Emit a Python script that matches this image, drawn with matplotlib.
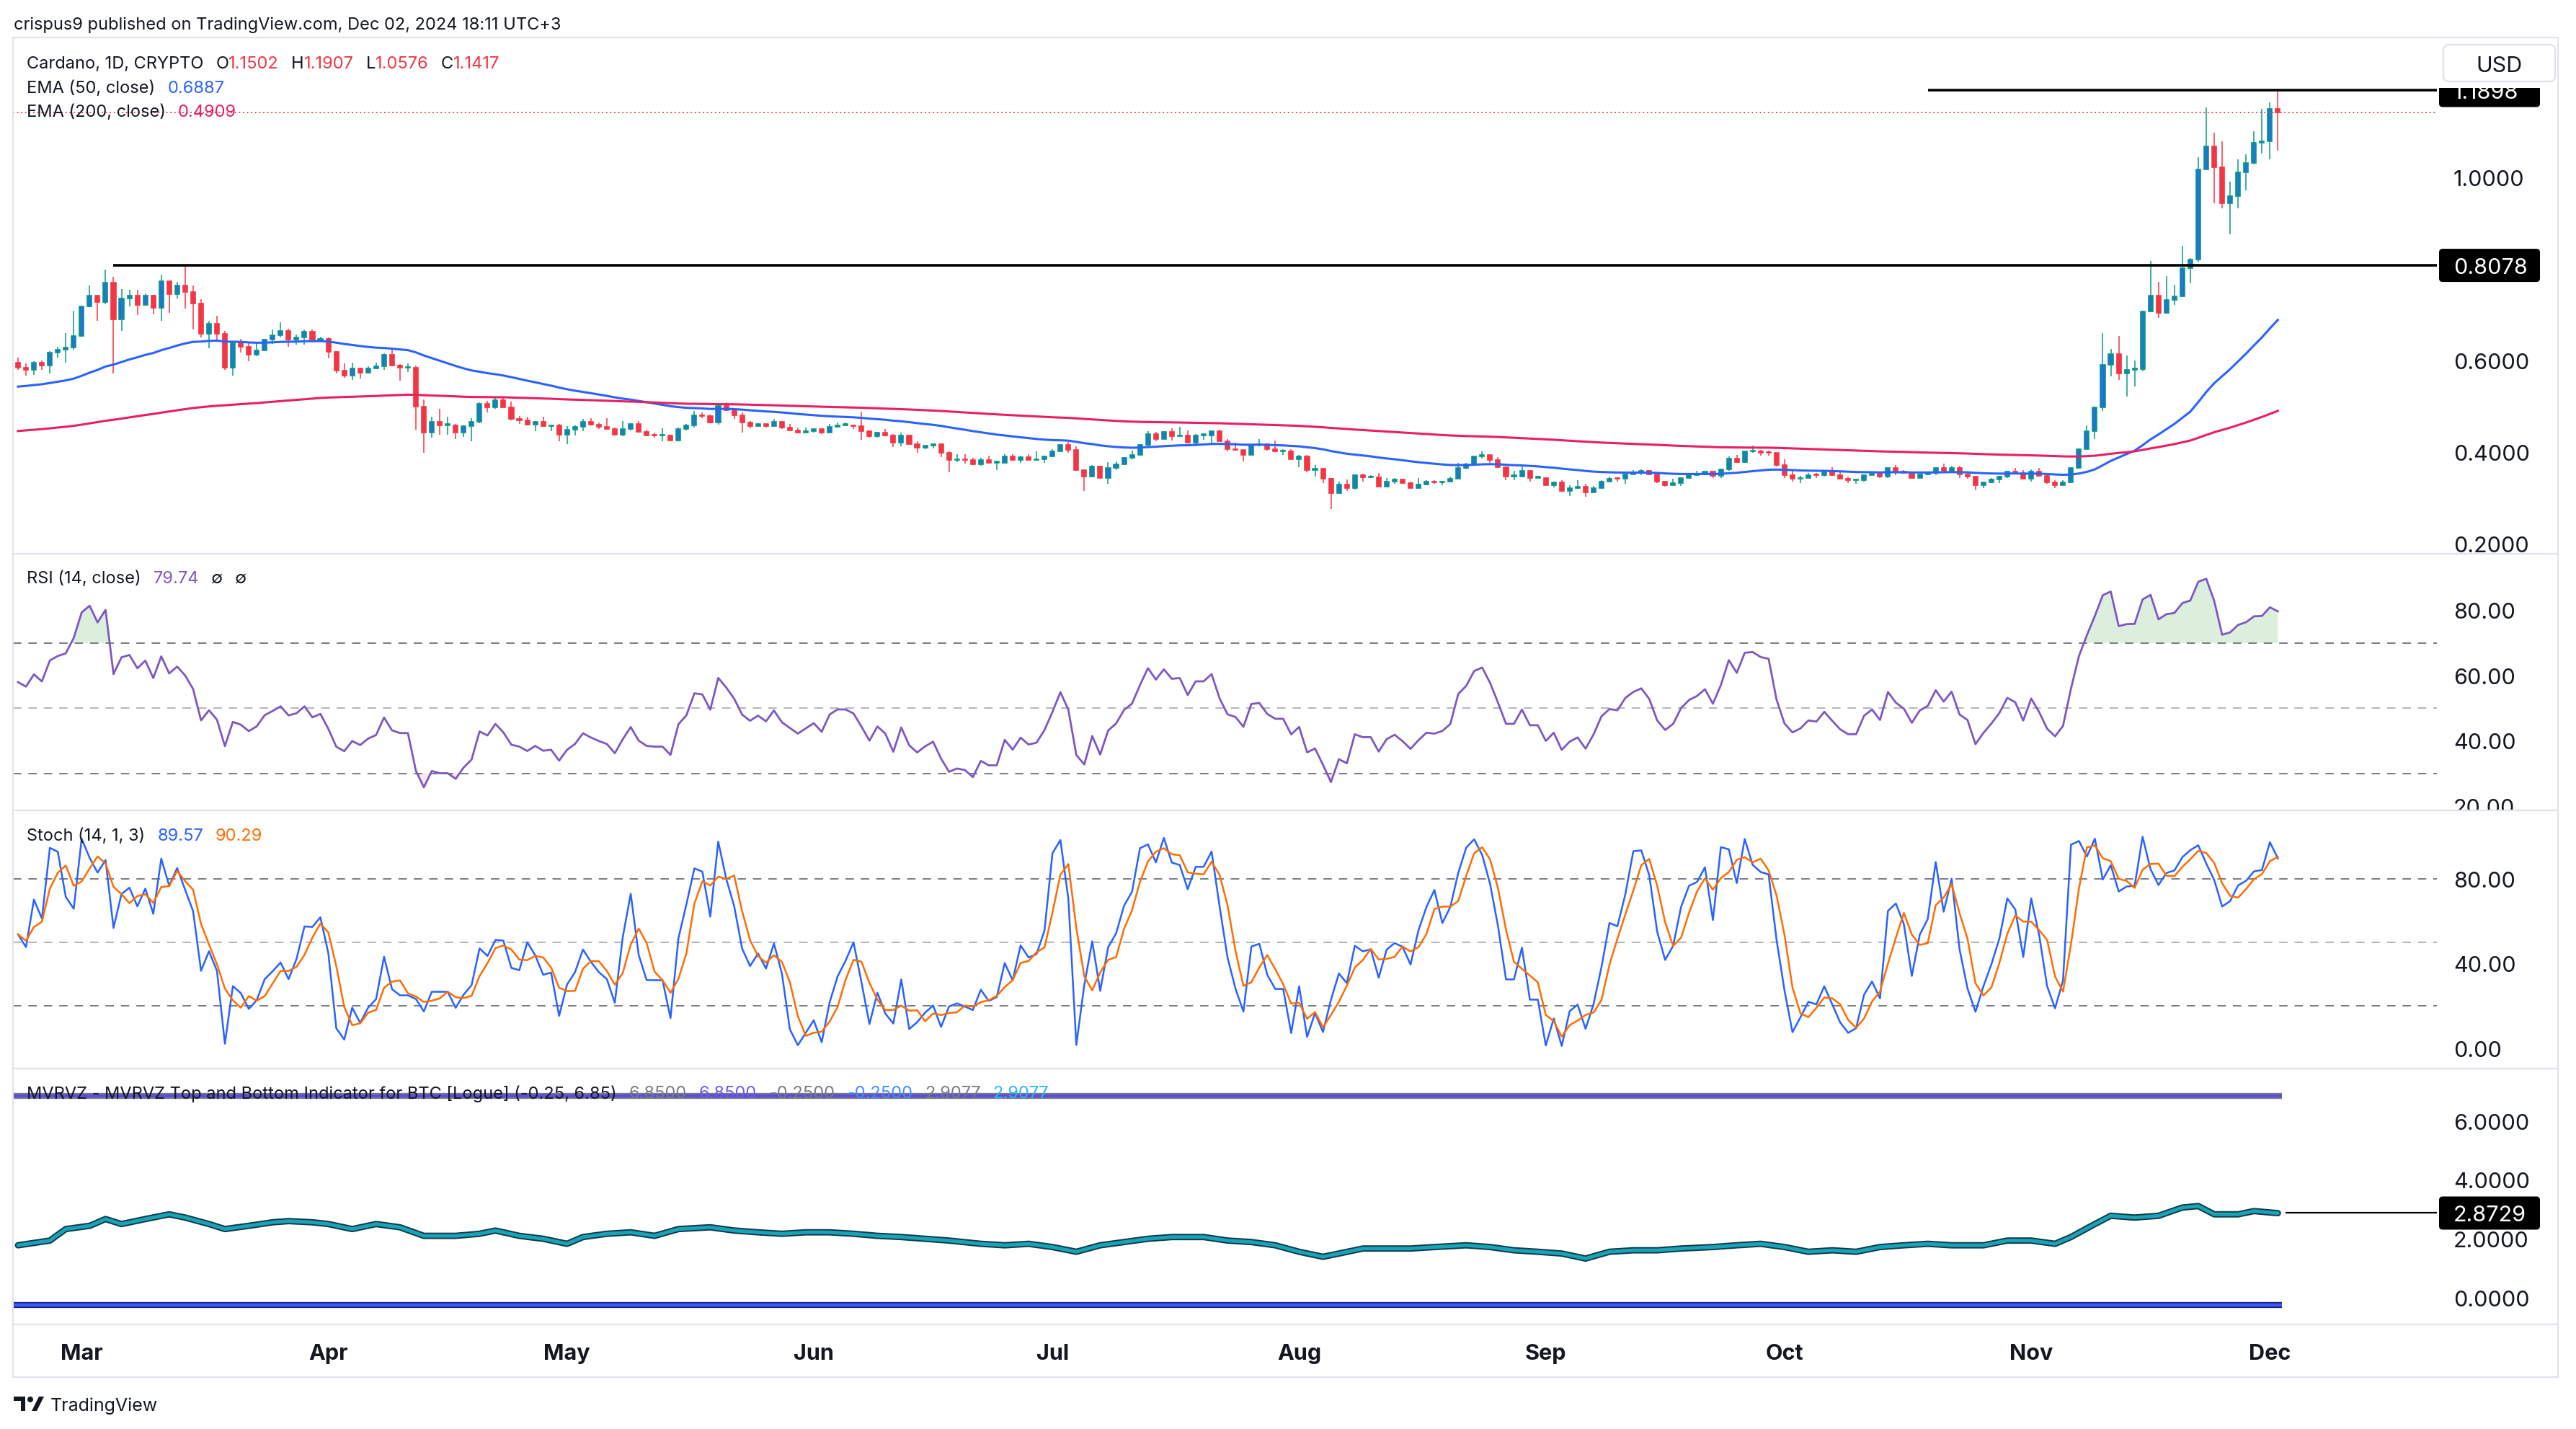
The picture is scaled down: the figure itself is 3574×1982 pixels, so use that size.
import numpy as np
import pandas as pd
import matplotlib
matplotlib.use("Agg")
import matplotlib.pyplot as plt
import matplotlib.transforms as mtransforms
from matplotlib.patches import FancyBboxPatch, Rectangle, Circle, Polygon

plt.rcParams['font.family'] = ['Inter', 'DejaVu Sans']

# ---- data: ADA/USD daily, 2024-02-22 .. 2024-12-02 ----
dates = pd.date_range("2024-02-22", "2024-12-02", freq="D")
first_open = 0.596
closes = [
    0.584, 0.580, 0.595, 0.589, 0.617, 0.624, 0.628, 0.654, 0.718, 0.742,
    0.727, 0.770, 0.690, 0.735, 0.742, 0.722, 0.742, 0.715, 0.774, 0.745,
    0.764, 0.749, 0.725, 0.658, 0.680, 0.658, 0.584, 0.638, 0.630, 0.612,
    0.622, 0.646, 0.655, 0.665, 0.646, 0.650, 0.663, 0.642, 0.648, 0.619,
    0.578, 0.567, 0.582, 0.573, 0.582, 0.587, 0.612, 0.589, 0.584, 0.584,
    0.500, 0.443, 0.466, 0.459, 0.459, 0.442, 0.456, 0.466, 0.505, 0.497,
    0.514, 0.498, 0.473, 0.469, 0.460, 0.466, 0.457, 0.458, 0.438, 0.449,
    0.455, 0.466, 0.460, 0.455, 0.451, 0.438, 0.450, 0.461, 0.444, 0.437,
    0.436, 0.436, 0.426, 0.450, 0.458, 0.480, 0.479, 0.465, 0.501, 0.492,
    0.481, 0.464, 0.457, 0.462, 0.456, 0.466, 0.454, 0.448, 0.442, 0.446,
    0.450, 0.442, 0.455, 0.459, 0.459, 0.456, 0.446, 0.434, 0.443, 0.437,
    0.420, 0.436, 0.418, 0.410, 0.414, 0.417, 0.399, 0.382, 0.384, 0.382,
    0.373, 0.382, 0.377, 0.377, 0.391, 0.382, 0.389, 0.383, 0.384, 0.391,
    0.402, 0.416, 0.404, 0.360, 0.347, 0.369, 0.344, 0.366, 0.373, 0.387,
    0.394, 0.416, 0.440, 0.429, 0.444, 0.435, 0.436, 0.420, 0.437, 0.437,
    0.446, 0.424, 0.407, 0.404, 0.393, 0.416, 0.417, 0.406, 0.401, 0.401,
    0.385, 0.391, 0.361, 0.364, 0.341, 0.310, 0.329, 0.322, 0.349, 0.345,
    0.345, 0.325, 0.336, 0.340, 0.332, 0.322, 0.329, 0.335, 0.334, 0.336,
    0.341, 0.366, 0.374, 0.390, 0.394, 0.383, 0.367, 0.347, 0.347, 0.359,
    0.344, 0.344, 0.328, 0.334, 0.315, 0.321, 0.324, 0.312, 0.322, 0.336,
    0.342, 0.341, 0.351, 0.356, 0.359, 0.352, 0.336, 0.328, 0.332, 0.343,
    0.349, 0.352, 0.357, 0.348, 0.362, 0.386, 0.378, 0.401, 0.402, 0.399,
    0.398, 0.371, 0.350, 0.341, 0.344, 0.350, 0.349, 0.356, 0.349, 0.342,
    0.338, 0.338, 0.349, 0.353, 0.346, 0.365, 0.358, 0.354, 0.344, 0.352,
    0.355, 0.366, 0.359, 0.366, 0.351, 0.347, 0.327, 0.334, 0.340, 0.347,
    0.358, 0.355, 0.342, 0.358, 0.348, 0.334, 0.327, 0.334, 0.365, 0.406,
    0.445, 0.497, 0.591, 0.614, 0.572, 0.580, 0.581, 0.707, 0.741, 0.704,
    0.733, 0.740, 0.802, 0.821, 1.018, 1.067, 1.022, 0.943, 0.959, 1.011,
    1.031, 1.076, 1.079, 1.1502, 1.1417,
]
highs = [
    0.606, 0.594, 0.598, 0.600, 0.621, 0.630, 0.660, 0.709, 0.720, 0.764,
    0.742, 0.798, 0.783, 0.756, 0.754, 0.754, 0.746, 0.744, 0.787, 0.774,
    0.772, 0.809, 0.764, 0.734, 0.687, 0.698, 0.665, 0.642, 0.647, 0.641,
    0.638, 0.647, 0.668, 0.683, 0.669, 0.657, 0.667, 0.668, 0.652, 0.650,
    0.621, 0.594, 0.595, 0.584, 0.588, 0.595, 0.616, 0.624, 0.592, 0.594,
    0.589, 0.515, 0.477, 0.494, 0.477, 0.462, 0.459, 0.474, 0.508, 0.512,
    0.521, 0.519, 0.511, 0.479, 0.477, 0.468, 0.477, 0.460, 0.461, 0.456,
    0.459, 0.472, 0.474, 0.465, 0.474, 0.453, 0.468, 0.463, 0.468, 0.449,
    0.443, 0.452, 0.436, 0.453, 0.461, 0.490, 0.486, 0.482, 0.503, 0.509,
    0.496, 0.486, 0.468, 0.463, 0.461, 0.472, 0.468, 0.461, 0.453, 0.453,
    0.451, 0.452, 0.461, 0.465, 0.465, 0.460, 0.488, 0.448, 0.444, 0.450,
    0.440, 0.443, 0.437, 0.424, 0.414, 0.417, 0.419, 0.402, 0.396, 0.395,
    0.388, 0.388, 0.392, 0.379, 0.395, 0.395, 0.392, 0.395, 0.402, 0.392,
    0.406, 0.417, 0.422, 0.412, 0.360, 0.371, 0.370, 0.378, 0.379, 0.389,
    0.403, 0.417, 0.445, 0.444, 0.445, 0.452, 0.455, 0.448, 0.440, 0.440,
    0.447, 0.449, 0.428, 0.420, 0.405, 0.417, 0.428, 0.419, 0.425, 0.406,
    0.406, 0.394, 0.394, 0.372, 0.365, 0.344, 0.335, 0.340, 0.351, 0.353,
    0.350, 0.354, 0.343, 0.343, 0.341, 0.335, 0.343, 0.338, 0.339, 0.337,
    0.346, 0.376, 0.377, 0.391, 0.401, 0.392, 0.389, 0.369, 0.359, 0.369,
    0.359, 0.348, 0.345, 0.335, 0.339, 0.327, 0.339, 0.331, 0.326, 0.338,
    0.346, 0.345, 0.355, 0.360, 0.363, 0.360, 0.354, 0.336, 0.342, 0.344,
    0.353, 0.359, 0.358, 0.357, 0.364, 0.390, 0.393, 0.402, 0.414, 0.405,
    0.403, 0.397, 0.384, 0.361, 0.348, 0.354, 0.355, 0.357, 0.367, 0.356,
    0.346, 0.340, 0.352, 0.356, 0.357, 0.367, 0.371, 0.361, 0.355, 0.353,
    0.357, 0.367, 0.375, 0.370, 0.370, 0.358, 0.348, 0.336, 0.343, 0.348,
    0.358, 0.365, 0.361, 0.363, 0.365, 0.350, 0.338, 0.339, 0.367, 0.408,
    0.458, 0.499, 0.660, 0.625, 0.654, 0.611, 0.600, 0.708, 0.818, 0.772,
    0.784, 0.766, 0.850, 0.823, 1.044, 1.152, 1.098, 1.078, 0.990, 1.039,
    1.050, 1.100, 1.150, 1.163, 1.1907,
]
lows = [
    0.580, 0.567, 0.568, 0.580, 0.572, 0.607, 0.596, 0.623, 0.652, 0.717,
    0.686, 0.723, 0.571, 0.665, 0.718, 0.700, 0.722, 0.701, 0.686, 0.704,
    0.736, 0.714, 0.668, 0.650, 0.627, 0.642, 0.579, 0.567, 0.618, 0.599,
    0.610, 0.621, 0.637, 0.651, 0.630, 0.634, 0.634, 0.641, 0.641, 0.604,
    0.572, 0.562, 0.558, 0.560, 0.571, 0.582, 0.579, 0.588, 0.556, 0.575,
    0.449, 0.399, 0.432, 0.438, 0.438, 0.428, 0.433, 0.423, 0.463, 0.487,
    0.494, 0.497, 0.469, 0.462, 0.459, 0.445, 0.456, 0.445, 0.424, 0.418,
    0.437, 0.445, 0.459, 0.451, 0.450, 0.437, 0.435, 0.448, 0.443, 0.436,
    0.432, 0.424, 0.425, 0.424, 0.448, 0.454, 0.474, 0.463, 0.460, 0.490,
    0.473, 0.442, 0.452, 0.456, 0.454, 0.455, 0.451, 0.447, 0.441, 0.443,
    0.442, 0.440, 0.441, 0.453, 0.456, 0.450, 0.427, 0.431, 0.431, 0.434,
    0.411, 0.413, 0.417, 0.399, 0.407, 0.408, 0.389, 0.356, 0.378, 0.375,
    0.372, 0.370, 0.376, 0.361, 0.375, 0.381, 0.377, 0.382, 0.383, 0.377,
    0.390, 0.401, 0.398, 0.359, 0.315, 0.345, 0.343, 0.330, 0.361, 0.371,
    0.384, 0.393, 0.411, 0.424, 0.429, 0.426, 0.435, 0.419, 0.413, 0.427,
    0.416, 0.423, 0.402, 0.403, 0.380, 0.393, 0.412, 0.403, 0.400, 0.393,
    0.384, 0.367, 0.356, 0.347, 0.332, 0.275, 0.310, 0.315, 0.318, 0.336,
    0.344, 0.324, 0.325, 0.330, 0.330, 0.321, 0.321, 0.327, 0.331, 0.327,
    0.335, 0.341, 0.363, 0.373, 0.386, 0.377, 0.366, 0.339, 0.339, 0.347,
    0.336, 0.343, 0.327, 0.323, 0.314, 0.304, 0.319, 0.303, 0.312, 0.322,
    0.336, 0.336, 0.330, 0.351, 0.349, 0.350, 0.333, 0.325, 0.328, 0.326,
    0.342, 0.348, 0.350, 0.343, 0.344, 0.359, 0.377, 0.377, 0.399, 0.392,
    0.392, 0.369, 0.343, 0.335, 0.332, 0.343, 0.344, 0.347, 0.348, 0.341,
    0.333, 0.330, 0.336, 0.350, 0.344, 0.343, 0.350, 0.353, 0.342, 0.343,
    0.352, 0.350, 0.356, 0.357, 0.343, 0.342, 0.317, 0.322, 0.333, 0.333,
    0.344, 0.353, 0.341, 0.336, 0.347, 0.330, 0.322, 0.327, 0.334, 0.364,
    0.406, 0.429, 0.490, 0.566, 0.558, 0.521, 0.544, 0.576, 0.705, 0.693,
    0.702, 0.722, 0.738, 0.769, 0.815, 1.018, 0.944, 0.932, 0.875, 0.932,
    0.971, 1.028, 1.052, 1.039, 1.0576,
]
# indicator state at the left edge of the chart
ema50_start = 0.543
ema200_start = 0.446
rsi_seed_gain, rsi_seed_loss = 0.0080, 0.0058
stoch_prior_high, stoch_prior_low = 0.615, 0.548

# MVRVZ line, read every few days
mvrv_day = [0, 4, 6, 9, 11, 13, 16, 19, 21, 24, 26, 29, 32, 34, 37, 39, 42, 45, 48, 51,
            55, 58, 60, 63, 66, 69, 71, 74, 77, 80, 83, 87, 90, 93, 96, 99, 102, 105, 108, 111,
            114, 117, 121, 124, 127, 130, 133, 136, 139, 142, 145, 149, 152, 155, 158, 161, 164, 166, 169, 172,
            175, 178, 182, 185, 188, 191, 194, 197, 200, 203, 206, 209, 213, 216, 219, 222, 225, 228, 231, 234,
            237, 240, 243, 247, 250, 253, 256, 258, 261, 263, 266, 269, 272, 274, 276, 279, 281, 284]
mvrv_val = [1.78, 1.94, 2.33, 2.44, 2.67, 2.5, 2.67, 2.83, 2.72, 2.5, 2.33, 2.44, 2.56, 2.6, 2.56, 2.5, 2.33, 2.5, 2.39, 2.1,
            2.1, 2.17, 2.28, 2.1, 2.0, 1.83, 2.06, 2.17, 2.22, 2.1, 2.33, 2.39, 2.28, 2.22, 2.17, 2.22, 2.22, 2.17, 2.1, 2.06,
            2.0, 1.94, 1.83, 1.78, 1.83, 1.72, 1.56, 1.78, 1.89, 2.0, 2.06, 2.06, 1.94, 1.89, 1.78, 1.56, 1.39, 1.5, 1.67, 1.67,
            1.67, 1.72, 1.78, 1.72, 1.61, 1.56, 1.5, 1.33, 1.56, 1.61, 1.61, 1.67, 1.72, 1.78, 1.83, 1.72, 1.56, 1.61, 1.56, 1.72,
            1.78, 1.83, 1.78, 1.78, 1.94, 1.94, 1.83, 2.06, 2.5, 2.78, 2.72, 2.78, 3.06, 3.11, 2.83, 2.83, 2.94, 2.87]
mvrv_top, mvrv_bottom = 6.85, -0.25

resistance_low, resistance_high = 0.8078, 1.1898
mvrv_last = 2.8729
price_ticks = [0.2, 0.4, 0.6, 1.0]
rsi_ticks = [80, 60, 40, 20]
stoch_ticks = [80, 40, 0]
mvrv_ticks = [6, 4, 2, 0]

# ---- colours ----
INK = '#131722'
UP_EDGE, UP_FACE, DOWN = '#089981', '#2962ff', '#f23645'
GRID = '#e0e3eb'

c = np.array(closes)
h = np.array(highs)
l = np.array(lows)
o = np.r_[first_open, c[:-1]]
h = np.maximum(h, np.maximum(o, c))
l = np.minimum(l, np.minimum(o, c))
x = np.arange(len(dates))


def ema(values, start, span):
    a = 2 / (span + 1)
    out = [start]
    for v in values[1:]:
        out.append(out[-1] + a * (v - out[-1]))
    return np.array(out)


ema50 = ema(c, ema50_start, 50)
ema200 = ema(c, ema200_start, 200)

ch = np.diff(c, prepend=c[0])
ag, al = rsi_seed_gain, rsi_seed_loss
rsi = []
for g, ls in zip(np.clip(ch, 0, None), np.clip(-ch, 0, None)):
    ag = (ag * 13 + g) / 14
    al = (al * 13 + ls) / 14
    rsi.append(100 - 100 / (1 + ag / al))
rsi = np.array(rsi)

hh = pd.Series(np.r_[stoch_prior_high, h]).rolling(14, min_periods=1).max().values[1:]
ll = pd.Series(np.r_[stoch_prior_low, l]).rolling(14, min_periods=1).min().values[1:]
stoch_k = 100 * (c - ll) / (hh - ll)
stoch_d = pd.Series(stoch_k).rolling(3, min_periods=1).mean().values

# ---- figure geometry (pixels) ----
W, H = 3574, 1982
fig = plt.figure(figsize=(W / 200, H / 200), dpi=200)
LEFT, RIGHT, PLOT_END = 18, 3549, 3381
TXT_DY = 4  # push text a few px down to match the screenshot baseline


def px_day(px):
    return (px - 25) / 11.04


x_lo, x_hi, day_end = px_day(LEFT), px_day(RIGHT), px_day(PLOT_END)
LABEL_X = (3404 - LEFT) / (RIGHT - LEFT)
down_shift = mtransforms.ScaledTranslation(0, -TXT_DY / 200, fig.dpi_scale_trans)


def pane(top, bottom, ylo, yhi):
    ax = fig.add_axes([LEFT / W, 1 - bottom / H, (RIGHT - LEFT) / W, (bottom - top) / H])
    ax.set_xlim(x_lo, x_hi)
    ax.set_ylim(ylo, yhi)
    ax.axis('off')
    return ax


def scale_labels(ax, ticks, fmt):
    for t in ticks:
        ax.text(LABEL_X, t, fmt.format(t), transform=ax.get_yaxis_transform() + down_shift,
                ha='left', va='center', fontsize=11, color=INK, clip_on=True)


# price pane
axp = pane(52, 768, 0.178, 1.3055)
up = c >= o
axp.vlines(x[up], l[up], h[up], color=UP_EDGE, lw=0.55)
axp.vlines(x[~up], l[~up], h[~up], color=DOWN, lw=0.55)
blo = np.minimum(o, c)
bh = np.maximum(np.abs(c - o), 0.002)
axp.bar(x[up], bh[up], bottom=blo[up], width=0.55, color=UP_FACE, edgecolor=UP_EDGE, lw=0.6)
axp.bar(x[~up], bh[~up], bottom=blo[~up], width=0.55, color=DOWN, edgecolor=DOWN, lw=0.6)
axp.plot(x, ema50, color='#2962ff', lw=1.1)
axp.plot(x, ema200, color='#e91e63', lw=1.1)
axp.hlines(resistance_low, 12, day_end, color='black', lw=1.3)
axp.hlines(resistance_high, 240, day_end, color='black', lw=1.3)
axp.hlines(c[-1], x_lo, day_end, color=DOWN, lw=0.65, linestyles=(0, (1, 2.1)))
scale_labels(axp, price_ticks, '{:.4f}')

# RSI pane
axr = pane(768, 1124, 18.66, 97.34)
axr.hlines([70, 30], x_lo, day_end, color='#787b86', lw=0.7, linestyles=(0, (6, 5)))
axr.hlines(50, x_lo, day_end, color='#b2b5be', lw=0.7, linestyles=(0, (6, 5)))
axr.fill_between(x, 70, rsi, where=rsi > 70, interpolate=True, color='#4caf50', alpha=0.2, lw=0)
axr.fill_between(x, 30, rsi, where=rsi < 30, interpolate=True, color='#f23645', alpha=0.12, lw=0)
axr.plot(x, rsi, color='#7e57c2', lw=1.0)
scale_labels(axr, rsi_ticks, '{:.2f}')

# Stoch pane
axs = pane(1124, 1482, -9.5, 112.2)
axs.hlines([80, 20], x_lo, day_end, color='#787b86', lw=0.7, linestyles=(0, (6, 5)))
axs.hlines(50, x_lo, day_end, color='#b2b5be', lw=0.7, linestyles=(0, (6, 5)))
axs.plot(x, stoch_k, color='#2962ff', lw=0.9)
axs.plot(x, stoch_d, color='#ff6d00', lw=0.9)
scale_labels(axs, stoch_ticks, '{:.2f}')

# MVRVZ pane
axm = pane(1482, 1837, -0.905, 7.775)
axm.hlines(mvrv_top, x_lo, 284.5, color='#787b86', lw=3.0)
axm.hlines(mvrv_top, x_lo, 284.5, color='#5b4cdb', lw=1.6)
axm.hlines(mvrv_bottom, x_lo, 284.5, color='#1a237e', lw=3.0)
axm.hlines(mvrv_bottom, x_lo, 284.5, color='#3d5afe', lw=1.6)
axm.plot(mvrv_day, mvrv_val, color='#0c3b4c', lw=3.2, solid_capstyle='round')
axm.plot(mvrv_day, mvrv_val, color='#1ba2b5', lw=1.8, solid_capstyle='round')
axm.hlines(mvrv_last, 285, day_end, color='black', lw=0.8)
scale_labels(axm, mvrv_ticks, '{:.4f}')

# ---- overlay in pixel coordinates ----
ov = fig.add_axes([0, 0, 1, 1], zorder=10)
ov.set_xlim(0, W)
ov.set_ylim(H, 0)
ov.axis('off')
ov.patch.set_alpha(0)

ov.add_patch(Rectangle((LEFT, 52), RIGHT - LEFT, 1910 - 52, fill=False, ec=GRID, lw=0.8))
ov.hlines([768, 1124, 1482, 1837], LEFT, RIGHT, color=GRID, lw=0.8)


def to_px(ax, val):
    return H - ax.transData.transform((0, val))[1]


def value_box(ax, val, text):
    yc = to_px(ax, val)
    ov.add_patch(FancyBboxPatch((3384, yc - 23), 140, 46, boxstyle='round,pad=0,rounding_size=5',
                                fc='black', ec='none'))
    ov.text(3404, yc + TXT_DY, text, color='white', fontsize=11, ha='left', va='center')


value_box(axp, resistance_low, '0.8078')
value_box(axp, resistance_high, '1.1898')
value_box(axm, mvrv_last, '2.8729')

# USD button hides the top of the 1.1898 box
ov.add_patch(Rectangle((3382, 54), 166, 68, fc='white', ec='none'))
ov.add_patch(FancyBboxPatch((3390, 62), 155, 51, boxstyle='round,pad=0,rounding_size=8',
                            fc='white', ec=GRID, lw=0.8))
ov.text(3467, 88 + TXT_DY, 'USD', fontsize=11, ha='center', va='center', color=INK)

# month labels on the time axis
for d in dates[dates.day == 1]:
    xd = axp.transData.transform((x[dates.get_loc(d)], 0))[0]
    ov.text(xd, 1874 + TXT_DY, d.strftime('%b'), fontsize=11, fontweight='bold',
            ha='center', va='center', color=INK)

r = fig.canvas.get_renderer()


def legend(xp, yp, parts, size=8.5):
    for txt, col, gap in parts:
        xp += gap
        t = ov.text(xp, yp + 3, txt, color=col, fontsize=size, ha='left', va='center')
        xp += t.get_window_extent(r).width


ov.text(19, 35, 'crispus9 published on TradingView.com, Dec 02, 2024 18:11 UTC+3',
        fontsize=8.5, color=INK, ha='left', va='center')

legend(37, 86, [('Cardano, 1D, CRYPTO', INK, 0), ('O', INK, 17), ('1.1502', DOWN, 0),
                ('H', INK, 17), ('1.1907', DOWN, 0), ('L', INK, 17), ('1.0576', DOWN, 0),
                ('C', INK, 17), ('1.1417', DOWN, 0)])
legend(37, 120, [('EMA (50, close)', INK, 0), ('0.6887', '#2962ff', 17)])
legend(37, 153, [('EMA (200, close)', INK, 0), ('0.4909', '#e91e63', 17)])
legend(37, 800, [('RSI (14, close)', INK, 0), ('79.74', '#7e57c2', 17), ('\u2205', INK, 17), ('\u2205', INK, 17)])
legend(37, 1157, [('Stoch (14, 1, 3)', INK, 0), ('89.57', '#2962ff', 17), ('90.29', '#ff6d00', 17)])
legend(37, 1514, [('MVRVZ - MVRVZ Top and Bottom Indicator for BTC [Logue] (-0.25, 6.85)', INK, 0),
                  ('6.8500', '#787b86', 17), ('6.8500', '#6c5ce7', 17), ('-0.2500', '#787b86', 17),
                  ('-0.2500', '#448aff', 17), ('2.9077', '#787b86', 17), ('2.9077', '#29b6f6', 17)])

# TradingView logo
ov.add_patch(Rectangle((19, 1937), 16, 6, fc=INK, ec='none'))
ov.add_patch(Rectangle((29, 1937), 6, 20, fc=INK, ec='none'))
ov.add_patch(Circle((42, 1941), 4, fc=INK, ec='none'))
ov.add_patch(Polygon([(44, 1957), (51, 1957), (61, 1937), (54, 1937)], closed=True, fc=INK, ec='none'))
ov.text(70, 1950, 'TradingView', fontsize=9, color=INK, ha='left', va='center')

fig.savefig('out.png', dpi=200, facecolor='white')
